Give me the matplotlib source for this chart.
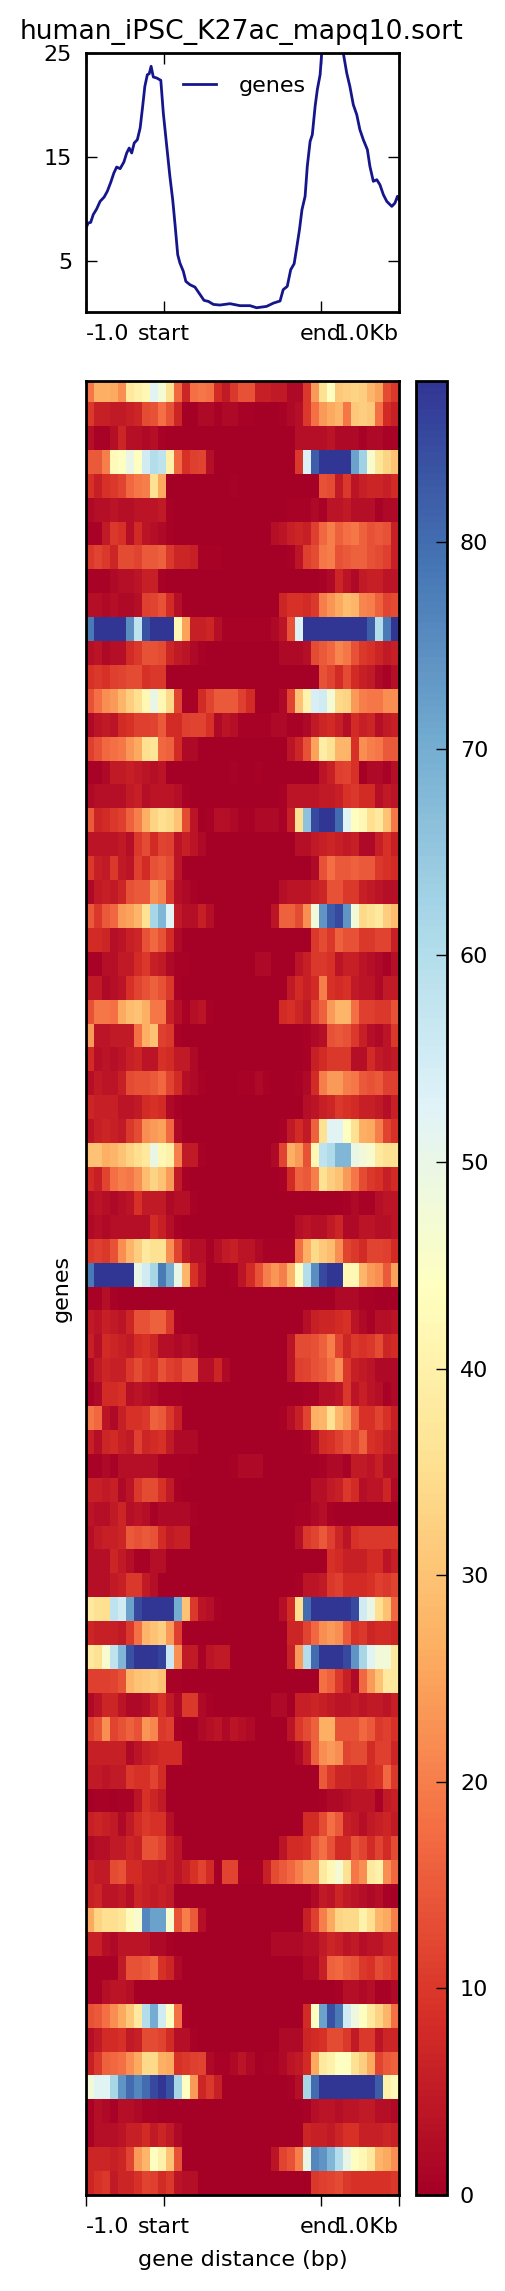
import matplotlib
matplotlib.use("Agg")
import matplotlib.pyplot as plt
import numpy as np

# summary profile, x is percent of the plot width
profile_x = [0, .7, 1.5, 2.3, 3.4, 4.5, 5.8, 6.8, 7.9, 8.9, 9.8, 10.9, 12.1, 13, 13.8, 14.6, 15.4, 16.4, 17.3, 18.1,
             18.8, 19.6, 20.2, 20.8, 21.5, 22.6, 23.9, 24.7, 25.8, 26.8, 27.7, 28.5, 29.3, 30, 31.1, 31.9, 33.2, 34.8,
             36.1, 37.7, 39.1, 40.7, 42.8, 46, 49.2, 52.4, 54.5, 57.7, 59.9, 62, 63, 64.3, 65.4, 66.5, 67.3, 68.2, 69,
             70, 70.7, 71.6, 72.3, 73.2, 73.9, 74.8, 75.3, 76.4, 79, 81.2, 82.2, 83.3, 84.3, 85.4, 86.5, 87.5, 88.6,
             89.9, 90.7, 91.8, 92.9, 93.9, 95, 96.1, 97.7, 98.7, 99.5, 100]
profile_y = [8.15, 8.63, 8.69, 9.43, 9.98, 10.71, 11.13, 11.68, 12.54, 13.44, 14.02, 13.86, 14.5, 15.37, 15.85, 15.37,
             16.33, 16.65, 17.78, 19.86, 21.79, 22.91, 23.0, 23.72, 22.69, 22.59, 22.37, 19.22, 16.01, 13.12, 10.87,
             8.31, 5.58, 4.78, 3.97, 3.01, 2.69, 2.46, 1.89, 1.18, 1.08, 0.79, 0.73, 0.86, 0.67, 0.67, 0.47, 0.6, 0.92,
             1.12, 2.21, 2.53, 4.13, 4.71, 6.22, 7.99, 9.91, 11.2, 14.09, 16.49, 17.13, 19.86, 21.47, 22.91, 25, 27.5,
             30, 27.5, 25, 23.07, 21.79, 20.02, 19.06, 17.62, 16.65, 15.69, 14.09, 12.64, 12.8, 12.32, 11.36, 10.71,
             10.23, 10.55, 11.2, 10.87]

tick_pos = [0, 0.25, 0.75, 1]
tick_names = ["-1.0", "start", "end", "1.0Kb"]
y_ticks = [5, 15, 25]
cbar_ticks = [0, 10, 20, 30, 40, 50, 60, 70, 80]

# one row per gene cluster, 39 bins across
gene_rows = [
    [19,27,27,26,22,38,40,42,52,47,36,17, 7,18,19,18,8,5,10,14,14,6,6,5,5, 2,2,10,24,36,44,31,32,33,32,28,25,13,10],
    [10,6,6,5,5,6,7,13,14,18,14,7, 0,0,2,2,1,2,2,1,1,0,0,0,1, 2,3,10,18,24,26,28,19,31,32,31,18,8,6],
    [3,1,1,3,7,3,3,2,3,1,0,0, 0,0,0,0,0,0,0,0,0,0,0,0,0, 0,3,3,3,3,4,2,2,2,1,2,2,1,1],
    [15,15,20,43,44,50,44,55,60,58,40,17, 9,11,12,3,0,0,0,0,0,0,0,0,0, 0,10,53,82,88,88,88,88,72,63,46,37,33,30],
    [9,6,9,10,12,17,19,20,36,26,0,0, 0,0,0,0,0,0,1,0,0,0,0,0,0, 0,0,0,0,14,13,5,10,4,6,7,7,6,8],
    [2,3,3,4,3,3,4,4,4,5,1,0, 0,0,0,0,0,0,0,0,0,0,0,0,0, 1,1,1,2,1,4,4,5,3,3,3,1,2,2],
    [1,1,5,10,9,3,8,4,3,2,1,0, 0,0,0,0,0,0,0,0,0,0,0,3,4, 6,7,6,11,17,20,16,18,19,16,14,15,14,6],
    [10,12,10,7,13,13,12,15,15,16,10,7, 7,6,1,1,1,0,0,0,0,0,0,0,0, 1,4,11,13,19,20,14,15,16,16,14,13,11,6],
    [1,1,1,2,3,3,4,6,6,1,0,0, 0,0,0,0,0,0,0,0,0,0,0,0,0, 0,0,0,0,1,2,7,4,2,5,6,6,4,4],
    [3,3,2,3,2,2,3,11,12,14,8,3, 0,0,0,0,0,0,0,0,0,0,0,0,7, 9,9,8,10,20,23,26,29,28,21,20,16,12,13],
    [78,88,88,88,88,75,58,84,88,88,88,42, 25,6,6,7,3,1,1,1,1,1,1,2,4, 14,53,88,88,88,88,88,88,88,88,82,60,78,88],
    [3,4,2,3,3,8,10,14,14,13,7,5, 4,2,1,0,0,0,0,0,0,0,0,0,2, 2,2,3,13,15,17,21,19,14,10,9,7,5,6],
    [9,10,9,11,12,13,13,9,10,10,0,0, 0,0,0,0,0,0,0,0,0,0,0,0,0, 0,0,0,0,14,12,8,13,8,6,5,2,1,3],
    [14,18,22,24,28,32,35,42,50,42,34,12, 1,1,8,12,15,15,15,11,8,0,0,0,2, 12,30,41,54,55,47,34,33,24,20,19,19,22,22],
    [2,4,5,4,8,9,11,11,12,15,8,8, 11,12,12,9,2,4,3,1,1,1,1,2,2, 1,1,2,5,7,8,6,3,8,6,7,3,5,6],
    [11,14,17,18,19,23,26,35,37,17,16,8, 2,2,0,0,0,0,0,0,0,0,0,0,0, 4,7,14,25,39,36,28,28,9,22,20,19,15,15],
    [1,1,2,5,5,6,5,4,3,4,0,0, 0,0,0,0,0,0,1,0,0,1,0,0,0, 0,0,0,0,4,6,11,12,9,0,2,2,1,3],
    [2,3,3,3,3,5,6,3,4,4,4,3, 1,0,0,0,0,0,0,0,0,0,0,0,1, 4,4,4,4,5,5,6,9,10,8,8,3,5,4],
    [15,7,8,10,11,16,20,27,33,35,34,30, 13,4,0,1,3,3,2,1,1,2,2,2,1, 6,36,66,85,88,88,80,52,44,42,35,38,30,19],
    [4,4,4,4,5,3,10,13,8,12,11,4, 6,4,2,0,0,0,0,0,0,0,0,0,0, 0,3,3,5,6,7,6,5,6,2,2,6,9,6],
    [10,6,5,10,5,4,11,8,14,15,13,4, 0,0,0,0,0,0,0,0,0,0,0,0,0, 0,0,0,2,14,18,15,15,16,15,15,10,9,8],
    [2,5,6,5,7,14,15,15,22,20,10,3, 2,1,0,0,0,0,0,0,0,0,0,0,3, 4,4,4,6,7,14,14,10,10,6,5,4,3,3],
    [15,10,15,17,24,25,28,36,62,68,52,5, 3,3,6,3,0,0,0,0,0,0,0,4,16, 16,13,22,48,74,82,85,74,48,34,36,38,32,29],
    [8,8,7,3,4,6,7,14,17,14,8,2, 0,0,0,0,0,0,0,0,0,0,0,0,0, 0,0,0,10,13,10,16,14,14,10,10,12,12,6],
    [1,1,3,3,5,5,8,10,6,5,2,1, 1,0,0,0,0,0,0,0,0,2,2,0,0, 0,4,6,10,10,9,4,6,6,4,3,2,1,3],
    [5,5,2,3,4,9,12,14,16,14,10,1, 0,0,0,0,0,0,0,0,0,0,0,0,0, 5,8,6,8,20,9,8,9,5,4,4,2,5,5],
    [14,19,19,18,26,29,30,27,19,19,6,3, 1,3,4,1,0,0,0,0,0,0,0,0,8, 9,7,5,12,16,24,28,28,18,11,11,10,10,14],
    [24,4,4,5,5,5,18,27,30,11,10,1, 0,0,0,0,0,0,0,0,0,0,0,0,0, 0,0,1,2,3,14,15,14,10,6,3,2,4,10],
    [8,3,4,3,4,6,7,4,4,9,8,5, 5,2,0,0,0,0,0,0,0,0,0,0,0, 0,0,1,6,8,10,10,10,3,3,8,5,4,5],
    [3,5,4,4,6,13,14,14,15,17,12,8, 3,2,1,0,0,0,0,1,1,2,1,0,0, 0,1,2,8,20,24,24,20,19,15,14,15,11,11],
    [7,6,6,6,4,4,5,8,9,8,2,1, 0,0,0,0,0,0,0,0,0,0,0,0,0, 0,0,3,4,6,7,10,9,8,6,6,5,3,6],
    [4,6,7,6,5,10,13,22,24,25,17,2, 0,0,0,0,0,0,0,0,0,0,0,0,1, 5,8,5,16,36,52,52,44,36,27,26,20,12,9],
    [30,30,27,28,30,33,35,38,50,42,40,20, 5,5,1,0,0,0,0,0,0,0,0,2,12, 27,24,14,42,58,61,68,68,50,48,46,38,36,36],
    [8,6,12,18,20,19,22,29,33,30,24,5, 1,0,0,0,0,0,0,0,0,0,0,0,1, 8,16,15,20,36,32,30,24,19,13,10,9,6,8],
    [3,4,3,2,3,4,9,5,5,5,2,3, 3,1,0,0,0,0,0,0,0,0,0,0,0, 0,0,0,0,0,0,0,1,2,1,1,3,4,4],
    [2,3,2,3,3,3,3,3,8,6,3,1, 0,0,0,0,0,0,0,0,0,0,0,0,0, 0,3,4,3,3,5,7,2,2,4,4,3,3,4],
    [10,11,10,14,22,28,32,38,36,36,22,12, 5,3,3,1,3,5,6,4,4,2,1,1,1, 1,18,27,34,31,29,22,12,10,8,12,12,11,8],
    [78,88,88,88,88,88,50,55,62,78,70,50, 28,9,4,0,0,0,1,4,8,14,20,23,20, 28,44,60,75,85,88,88,42,42,28,24,22,15,25],
    [1,1,3,1,0,0,0,0,0,0,0,0, 0,0,0,0,0,0,0,0,0,0,0,0,0, 0,0,0,0,0,0,2,2,2,1,1,0,0,0],
    [5,4,6,5,4,7,14,14,16,16,10,1, 0,0,0,0,0,0,0,0,0,0,0,0,0, 0,0,3,6,7,7,8,9,4,2,1,3,3,4],
    [6,3,8,7,6,5,8,9,7,3,3,2, 3,2,0,0,0,0,0,0,0,0,0,0,0, 4,13,13,14,16,20,12,7,10,9,10,13,7,8],
    [2,5,7,6,6,10,13,10,9,14,11,10, 14,14,3,3,7,2,0,0,0,0,0,0,0, 4,11,12,14,15,18,22,10,6,5,4,2,2,2],
    [1,2,8,8,9,3,4,3,2,1,1,1, 0,0,0,0,0,0,0,0,0,0,0,0,0, 0,0,1,1,3,3,4,10,4,6,4,3,1,2],
    [19,17,4,2,6,9,9,10,16,15,10,6, 0,0,0,0,0,0,0,0,0,0,0,0,1, 3,6,12,27,28,36,28,24,16,9,9,12,9,6],
    [6,3,7,8,6,5,11,7,8,9,5,2, 2,2,0,0,0,0,0,0,0,0,0,0,0, 0,0,1,3,8,9,11,14,12,16,9,8,6,5],
    [1,1,2,1,3,3,3,3,3,1,1,1, 1,0,0,0,0,0,1,2,2,2,0,0,0, 0,0,0,0,1,2,2,1,5,5,4,6,3,3],
    [6,6,5,6,2,4,10,13,13,9,5,1, 0,0,0,0,0,0,0,0,0,0,0,0,0, 0,0,0,3,3,5,6,10,8,3,4,4,7,2],
    [4,3,3,5,7,3,4,3,1,2,2,2, 2,1,0,0,0,0,0,0,0,0,0,0,0, 0,1,1,2,3,1,0,0,0,0,0,0,0,0],
    [3,5,6,6,7,15,14,15,14,8,5,6, 6,0,0,0,0,0,0,0,0,0,0,0,0, 0,3,10,12,15,11,7,4,9,10,10,10,10,10],
    [3,3,3,7,5,3,1,1,3,3,0,0, 0,0,0,0,0,0,0,0,0,0,0,0,0, 0,0,0,0,0,9,8,6,6,6,8,8,4,6],
    [3,3,3,5,6,10,10,5,3,0,0,0, 0,0,0,0,0,0,0,0,0,0,0,0,0, 0,1,4,4,5,10,11,8,8,8,9,11,10,12],
    [38,36,35,58,55,72,85,88,88,88,88,70, 30,10,4,3,1,0,0,0,0,0,0,0,3, 8,35,80,88,88,88,88,88,85,55,50,35,30,17],
    [7,6,6,6,5,10,18,28,30,32,24,11, 0,0,0,0,0,0,0,0,0,0,0,0,0, 7,7,12,17,22,24,22,15,9,10,7,8,8,7],
    [38,36,46,58,68,84,88,88,88,86,56,22, 5,5,1,4,5,5,0,0,0,0,0,0,0, 6,24,60,80,88,88,88,85,74,62,52,48,48,38],
    [11,11,11,12,14,28,30,31,32,30,1,1, 0,0,0,0,0,0,0,0,0,0,0,0,0, 0,0,0,0,18,16,10,6,2,17,24,30,38,38],
    [2,4,7,7,4,2,2,3,6,9,5,2, 10,10,2,1,0,0,0,0,0,0,0,2,2, 0,6,6,7,6,5,4,4,5,4,5,5,4,6],
    [11,14,22,12,14,16,14,23,21,10,11,1, 0,0,2,3,4,2,4,3,2,0,0,0,0, 4,10,13,16,27,27,14,14,14,17,15,10,11,9],
    [6,6,6,6,6,2,4,6,7,8,8,8, 1,0,0,0,0,0,0,0,0,0,0,0,0, 0,2,6,16,22,24,22,12,13,13,8,11,11,7],
    [5,5,4,5,5,10,9,9,12,8,0,0, 0,0,0,0,0,0,0,0,0,0,0,0,0, 0,0,0,0,15,10,7,7,6,6,8,9,17,10],
    [0,1,1,0,1,1,4,9,7,5,0,0, 0,0,0,0,0,0,0,0,0,0,0,0,0, 0,0,0,0,1,2,2,3,4,4,4,1,5,6],
    [6,7,6,5,2,5,8,10,9,9,3,0, 0,0,0,0,0,0,0,0,0,0,0,0,0, 0,0,8,8,13,18,15,6,5,3,5,6,7,5],
    [2,3,3,5,5,7,6,14,14,12,6,4, 0,0,0,0,0,0,0,0,0,0,0,0,4, 8,8,9,15,18,14,8,8,14,12,8,12,8,13],
    [6,5,5,13,14,8,8,6,6,5,6,4, 6,9,12,8,0,12,12,1,1,1,6,13,15, 17,20,24,24,38,42,47,36,19,22,38,40,22,17],
    [6,7,4,4,5,3,7,6,5,6,5,0, 0,0,0,0,0,0,0,0,0,0,0,0,0, 0,0,0,2,5,4,7,5,4,3,2,3,1,0],
    [26,33,35,35,37,43,46,76,72,72,46,14, 20,15,3,0,0,0,0,0,0,0,0,0,0, 0,0,6,11,20,26,33,34,34,40,35,28,26,20],
    [6,6,3,2,4,4,4,4,2,2,1,0, 0,0,0,0,0,0,0,0,0,0,0,2,2, 2,2,3,3,5,7,6,4,5,3,4,4,6,6],
    [1,1,1,1,5,14,14,15,17,9,7,2, 0,0,0,0,0,0,0,0,0,0,0,0,0, 0,0,2,2,6,16,17,15,14,10,9,13,11,9],
    [1,1,3,4,4,3,0,0,0,0,0,0, 0,0,0,0,0,0,0,0,0,0,0,0,0, 0,0,0,0,0,0,1,3,3,2,3,1,1,2],
    [14,15,18,22,26,31,38,60,70,55,44,18, 1,0,0,0,0,0,0,0,0,0,0,0,0, 0,0,8,44,72,84,78,55,49,44,38,33,28,18],
    [3,5,8,8,9,5,6,13,13,12,8,3, 3,1,0,0,0,0,0,0,0,0,0,0,2, 2,2,7,8,9,13,13,10,5,10,10,4,7,7],
    [6,10,16,17,18,22,26,34,34,27,26,9, 10,11,12,2,1,1,2,4,2,0,1,1,2, 4,5,8,26,38,40,44,44,36,32,26,12,15,16],
    [48,52,52,62,74,80,76,80,85,88,84,62, 44,24,7,10,6,0,0,0,0,0,0,0,0, 1,3,62,80,88,88,88,88,88,88,88,82,40,43],
    [1,3,2,1,3,3,2,1,1,0,0,0, 0,0,0,0,0,0,0,0,0,0,0,0,0, 0,0,1,3,4,4,3,4,4,5,5,3,3,2],
    [1,3,3,3,4,6,6,8,5,7,5,2, 0,0,0,0,0,0,0,0,0,0,0,0,0, 0,0,7,6,6,5,7,9,9,6,6,6,7,6],
    [7,7,7,6,7,12,24,28,44,40,30,14, 0,0,0,0,0,0,0,0,0,0,0,4,12, 14,20,50,76,74,68,60,50,44,42,38,28,26,22],
    [7,9,10,5,7,7,9,12,11,8,10,4, 3,3,0,0,0,0,0,0,0,0,0,0,0, 0,0,0,10,11,12,13,10,9,9,9,9,9,10],
]

W, H = 506.0, 2291.0
plt.rcParams["font.family"] = "DejaVu Sans"
plt.rcParams["font.size"] = 8
plt.rcParams["axes.linewidth"] = 1.0

fig = plt.figure(figsize=(W / 200, H / 200), dpi=200)


def box(left, top, right, bottom):
    return [left / W, 1 - bottom / H, (right - left) / W, (bottom - top) / H]


# profile on top
ax1 = fig.add_axes(box(86, 53, 399, 312))
ax1.plot(np.array(profile_x) / 100, profile_y, color="#16168c", lw=1.0, label="genes")
ax1.set_xlim(0, 1)
ax1.set_ylim(0.06, 25)
ax1.set_yticks(y_ticks)
ax1.set_xticks(tick_pos)
ax1.set_xticklabels(tick_names)
ax1.tick_params(axis="x", direction="in", length=4, width=0.5, top=True, pad=4.5)
ax1.tick_params(axis="y", direction="in", length=4, width=0.5, right=True, pad=5)
ax1.get_xticklabels()[0].set_ha("left")
ax1.get_xticklabels()[3].set_ha("right")
ax1.legend(loc="upper center", frameon=False, fontsize=8, bbox_to_anchor=(0.505, 0.99),
           handlelength=1.5, handletextpad=1.0)
fig.text(241.7 / W, 1 - 32 / H, "human_iPSC_K27ac_mapq10.sort", fontsize=9.6, ha="center", va="center")

# heatmap
ax2 = fig.add_axes(box(86, 381, 399, 2195))
im = ax2.imshow(np.array(gene_rows), cmap="RdYlBu", vmin=0, vmax=87.8, aspect="auto",
                interpolation="nearest", extent=[0, 1, 75.5, -0.5])
ax2.set_ylim(75.5, -0.38)
ax2.set_yticks([])
ax2.set_xticks(tick_pos)
ax2.set_xticklabels(tick_names)
ax2.tick_params(axis="x", direction="out", length=4, width=0.5, top=False, pad=4)
ax2.get_xticklabels()[0].set_ha("left")
ax2.get_xticklabels()[3].set_ha("right")
ax2.set_xlabel("gene distance (bp)", labelpad=4.5)
ax2.set_ylabel("genes", labelpad=5)

cax = fig.add_axes(box(416, 381, 447.5, 2195))
cb = fig.colorbar(im, cax=cax, ticks=cbar_ticks)
cb.ax.tick_params(length=4, width=0.5, direction="in", pad=4.5)
cb.outline.set_linewidth(1.0)

fig.savefig("out.png", dpi=200)
